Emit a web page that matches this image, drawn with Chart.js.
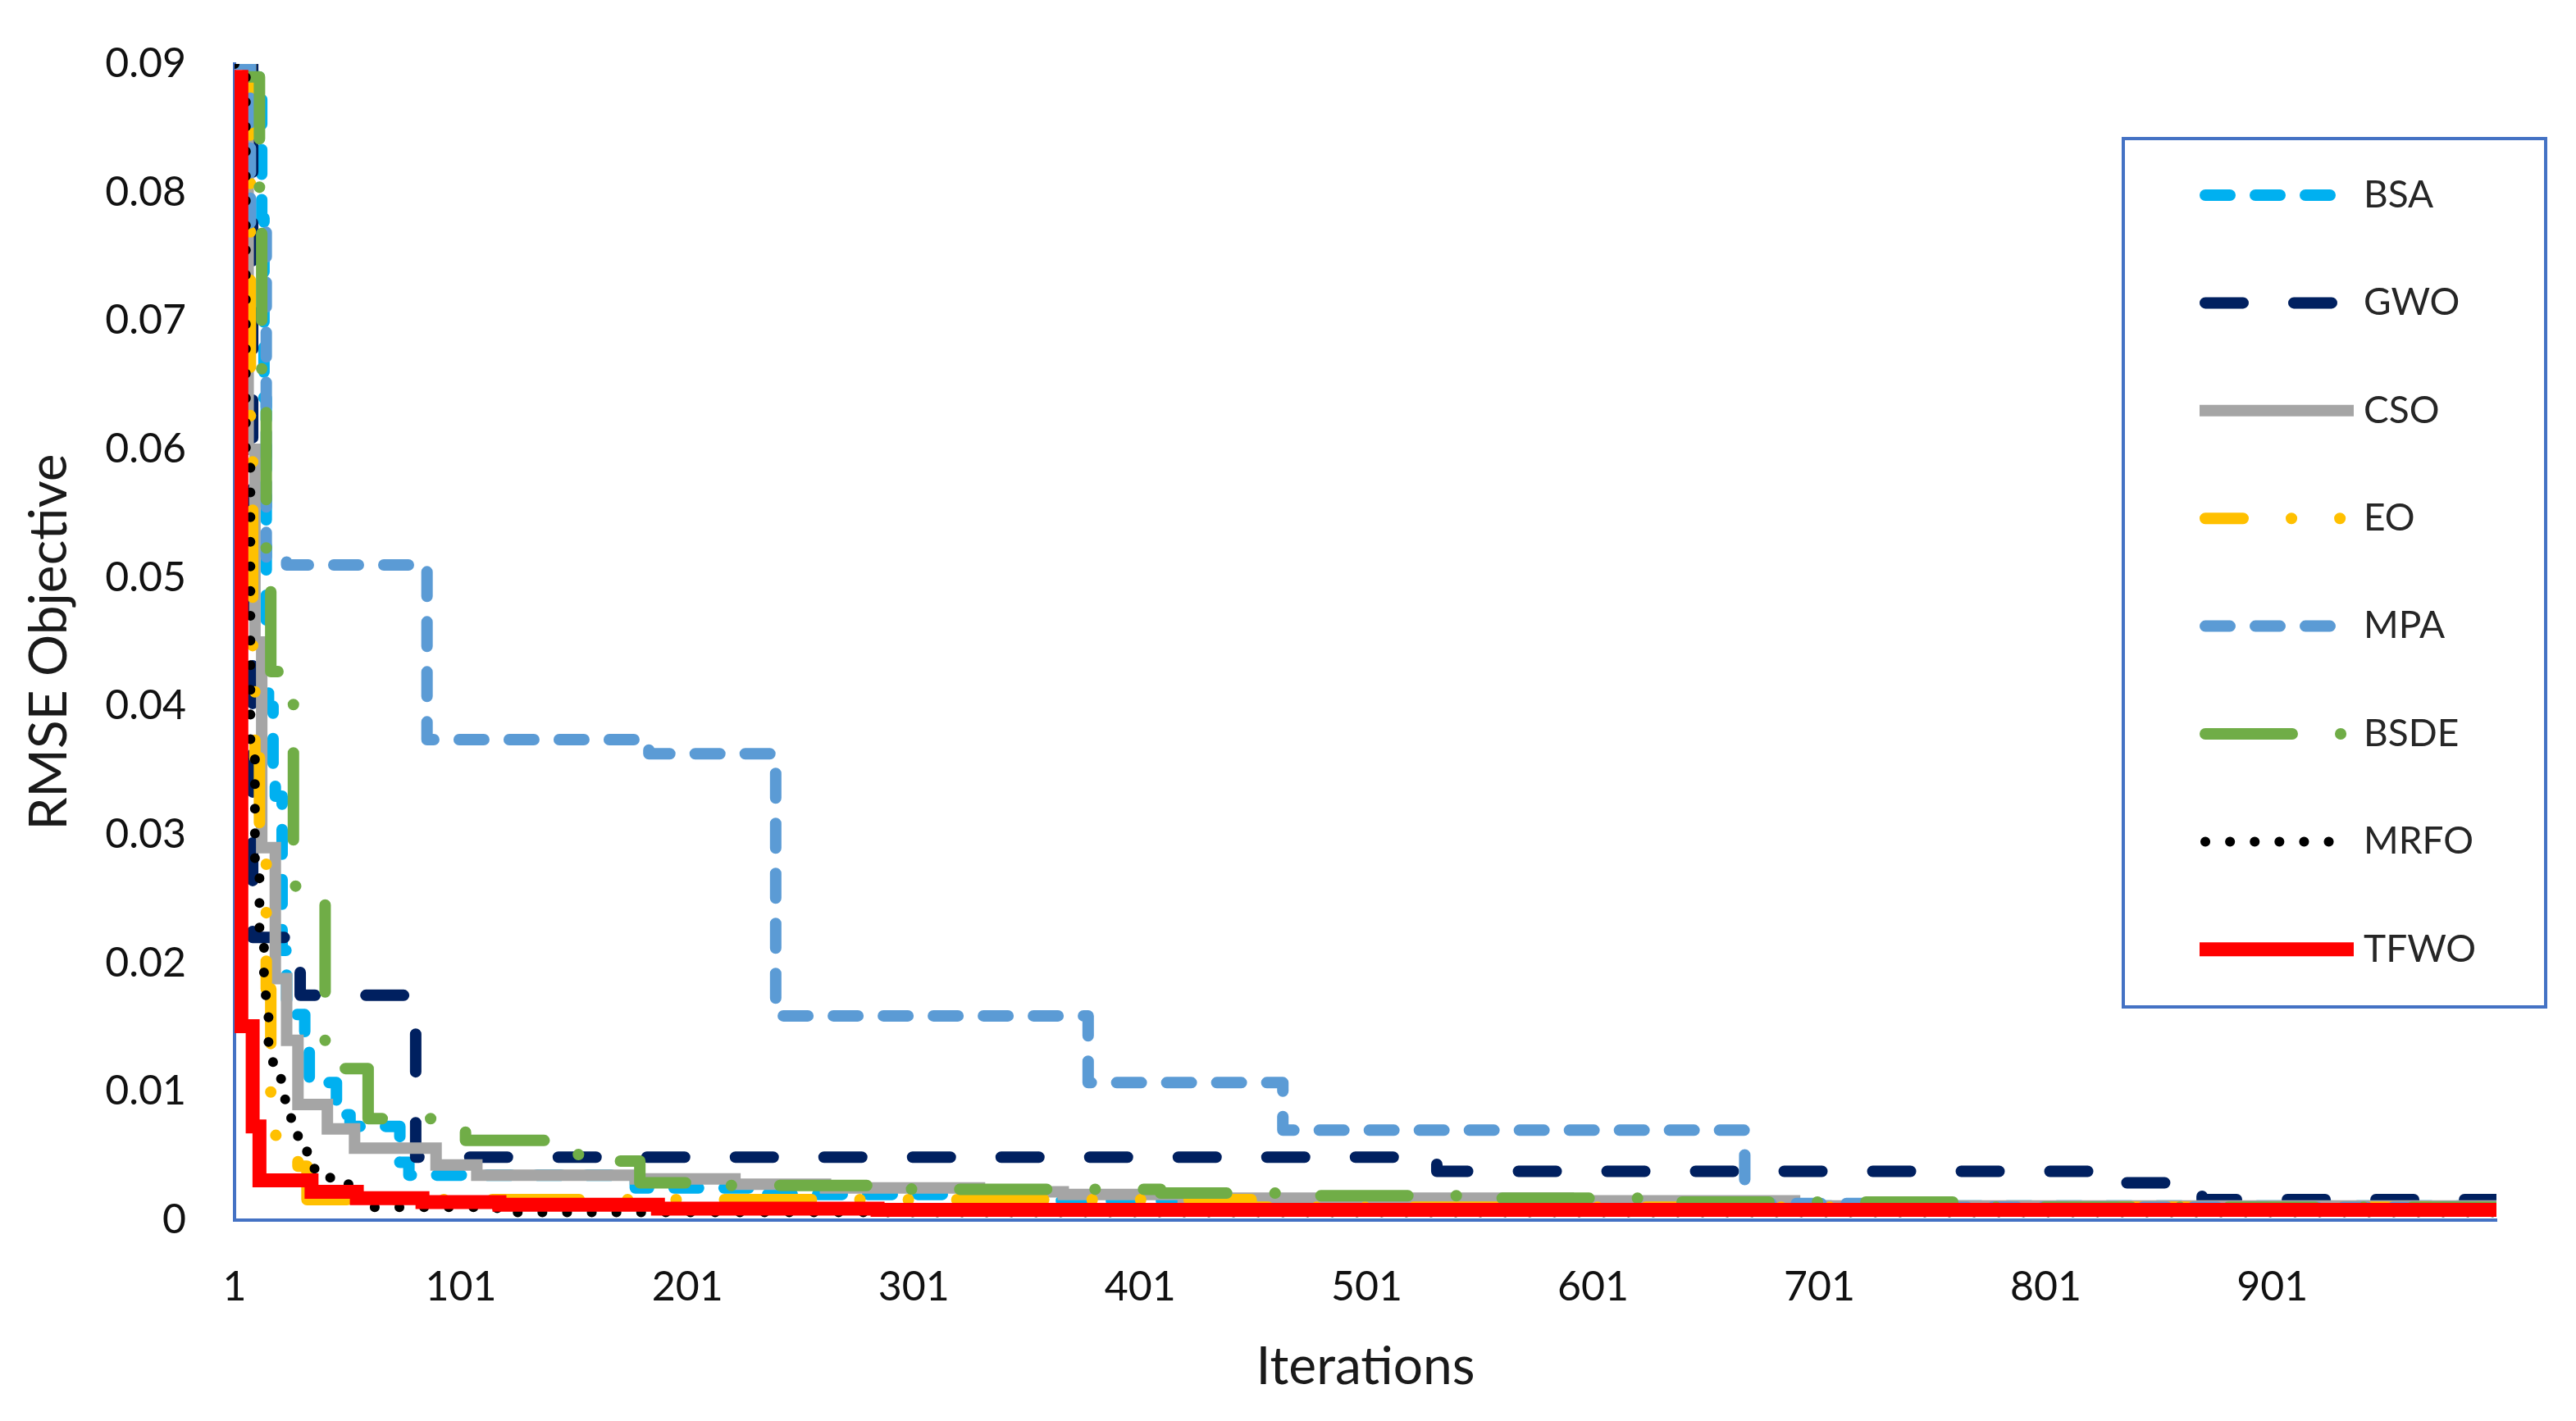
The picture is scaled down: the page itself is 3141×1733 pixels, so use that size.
<!DOCTYPE html>
<html>
<head>
<meta charset="utf-8">
<title>RMSE convergence</title>
<script src="https://cdn.jsdelivr.net/npm/chart.js@4.4.1/dist/chart.umd.min.js"></script>
<style>
  html, body { margin: 0; padding: 0; background: #fff; }
  canvas { display: block; }
</style>
</head>
<body>
<canvas id="convChart" width="3141" height="1733"></canvas>
<script>
// [iteration, best RMSE] at every change of the best value
const BSA  = [[1,0.0890],[12,0.0880],[13,0.0780],[14,0.0640],[15,0.0460],[16,0.0400],[18,0.0350],[19,0.0330],[22,0.0210],[24,0.0160],[32,0.0140],[34,0.0107],[46,0.0082],[52,0.0073],[74,0.0045],[78,0.0035],[178,0.0025],[236,0.0020],[342,0.0015],[420,0.0013],[600,0.0011],[1000,0.0011]];
const GWO  = [[1,0.0900],[9,0.0220],[30,0.0175],[81,0.0049],[532,0.0038],[836,0.0029],[870,0.0016],[1000,0.0016]];
const CSO  = [[1,0.0900],[7,0.0600],[10,0.0450],[13,0.0290],[19,0.0188],[24,0.0140],[29,0.0090],[42,0.0071],[54,0.0056],[90,0.0043],[108,0.0035],[178,0.0032],[222,0.0028],[262,0.0025],[330,0.0022],[367,0.0020],[420,0.0017],[590,0.0015],[690,0.0011],[1000,0.0011]];
const EO   = [[1,0.0900],[8,0.0620],[9,0.0430],[10,0.0360],[12,0.0280],[15,0.0180],[17,0.0066],[23,0.0052],[29,0.0042],[33,0.0016],[450,0.0010],[1000,0.0010]];
const MPA  = [[1,0.0900],[8,0.0770],[15,0.0515],[24,0.0510],[86,0.0374],[184,0.0363],[240,0.0159],[378,0.0107],[464,0.0070],[668,0.0013],[760,0.0010],[1000,0.0010]];
const BSDE = [[1,0.0890],[12,0.0800],[13,0.0650],[15,0.0520],[17,0.0427],[27,0.0260],[41,0.0118],[60,0.0079],[93,0.0073],[103,0.0062],[145,0.0051],[158,0.0046],[180,0.0029],[216,0.0027],[300,0.0024],[410,0.0021],[466,0.0019],[548,0.0017],[630,0.0014],[760,0.0010],[1000,0.0010]];
const MRFO = [[1,0.0900],[6,0.0600],[8,0.0370],[10,0.0270],[12,0.0220],[14,0.0175],[16,0.0130],[18,0.0110],[22,0.0094],[26,0.0077],[29,0.0056],[33,0.0040],[37,0.0033],[46,0.0028],[52,0.0020],[57,0.0010],[117,0.0006],[1000,0.0005]];
const TFWO = [[1,0.0890],[4,0.0151],[9,0.0073],[12,0.0031],[35,0.0022],[55,0.0017],[84,0.0014],[118,0.0012],[188,0.0009],[285,0.0008],[1000,0.0008]];

const seriesNames = ['BSA', 'GWO', 'CSO', 'EO', 'MPA', 'BSDE', 'MRFO', 'TFWO'];
const seriesData = [BSA, GWO, CSO, EO, MPA, BSDE, MRFO, TFWO];

const xTicks = [1, 101, 201, 301, 401, 501, 601, 701, 801, 901];
const yTickLabels = ['0', '0.01', '0.02', '0.03', '0.04', '0.05', '0.06', '0.07', '0.08', '0.09'];

// line looks, same order as seriesNames
const colors = ['#00B0F0', '#002060', '#A5A5A5', '#FFC000', '#5B9BD5', '#70AD47', '#000000', '#FF0000'];
const dashes = [[30, 31], [46, 62], [], [106, 59, 0.1, 59, 0.1, 59], [30, 31], [106, 59, 0.1, 59], [0.1, 30], []];
const widths = [14, 14, 14, 14, 14, 14, 12, 17];
const legendOffsets = [0, 0, 0, 60, 0, 0, 0, 0];

const FONT = 'Lato, "Open Sans", sans-serif';

const datasets = seriesNames.map((name, i) => ({
  label: name,
  data: seriesData[i].map(p => ({ x: p[0], y: p[1] })),
  stepped: true,
  borderColor: colors[i],
  borderWidth: widths[i],
  borderDash: dashes[i],
  borderCapStyle: dashes[i].length ? 'round' : 'butt',
  borderJoinStyle: dashes[i].length ? 'round' : 'miter',
  pointRadius: 0,
  fill: false,
  order: seriesNames.length - i   // later series drawn on top
}));

// legend in a framed box at the right, like the original
const boxLegend = {
  id: 'boxLegend',
  afterDraw(chart) {
    const ctx = chart.ctx;
    ctx.save();
    ctx.fillStyle = '#fff';
    ctx.fillRect(2589, 169, 515, 1059);
    ctx.strokeStyle = '#4472C4';
    ctx.lineWidth = 4;
    ctx.strokeRect(2589, 169, 515, 1059);

    chart.data.datasets.forEach((ds, i) => {
      const y = 238 + i * 131.4;
      const round = ds.borderCapStyle === 'round';
      ctx.beginPath();
      ctx.setLineDash(ds.borderDash);
      ctx.lineDashOffset = legendOffsets[i];
      ctx.lineCap = ds.borderCapStyle;
      ctx.lineWidth = ds.borderWidth;
      ctx.strokeStyle = ds.borderColor;
      ctx.moveTo(round ? 2689 : 2682, y);
      ctx.lineTo(round ? 2863 : 2870, y);
      ctx.stroke();

      ctx.setLineDash([]);
      ctx.fillStyle = '#262626';
      ctx.font = '46px ' + FONT;
      ctx.textAlign = 'left';
      ctx.textBaseline = 'middle';
      ctx.fillText(ds.label, 2882, y);
    });
    ctx.restore();
  }
};

new Chart(document.getElementById('convChart'), {
  type: 'line',
  data: { datasets: datasets },
  options: {
    responsive: false,
    devicePixelRatio: 1,
    animation: false,
    layout: { padding: { top: 78, right: 97, left: 0, bottom: 0 } },
    plugins: {
      legend: { display: false },
      tooltip: { enabled: false }
    },
    scales: {
      x: {
        type: 'linear',
        min: 1,
        max: 1000,
        grid: { display: false, drawTicks: false },
        border: { display: true, color: '#4472C4', width: 4 },
        afterBuildTicks: scale => { scale.ticks = xTicks.map(v => ({ value: v })); },
        afterFit: scale => { scale.height = 245; },
        ticks: {
          autoSkip: false,
          maxRotation: 0,
          padding: 52,
          color: '#111',
          font: { family: FONT, size: 50 },
          callback: v => String(v)
        },
        title: {
          display: true,
          text: 'Iterations',
          color: '#1a1a1a',
          font: { family: FONT, size: 64 },
          padding: { top: 0, bottom: 27 }
        }
      },
      y: {
        min: 0,
        max: 0.09,
        grid: { display: false, drawTicks: false },
        border: { display: true, color: '#4472C4', width: 4 },
        afterFit: scale => {
          scale.width = 286;
          // keep the tick padding from pushing the plot top down
          scale.paddingTop = 0;
          scale.paddingBottom = 0;
        },
        ticks: {
          stepSize: 0.01,
          padding: 59,
          color: '#111',
          font: { family: FONT, size: 50 },
          callback: (v, i) => yTickLabels[i]
        },
        title: {
          display: true,
          text: 'RMSE Objective',
          color: '#1a1a1a',
          font: { family: FONT, size: 64 },
          padding: { top: 22, bottom: 0 }
        }
      }
    }
  },
  plugins: [boxLegend]
});
</script>
</body>
</html>
